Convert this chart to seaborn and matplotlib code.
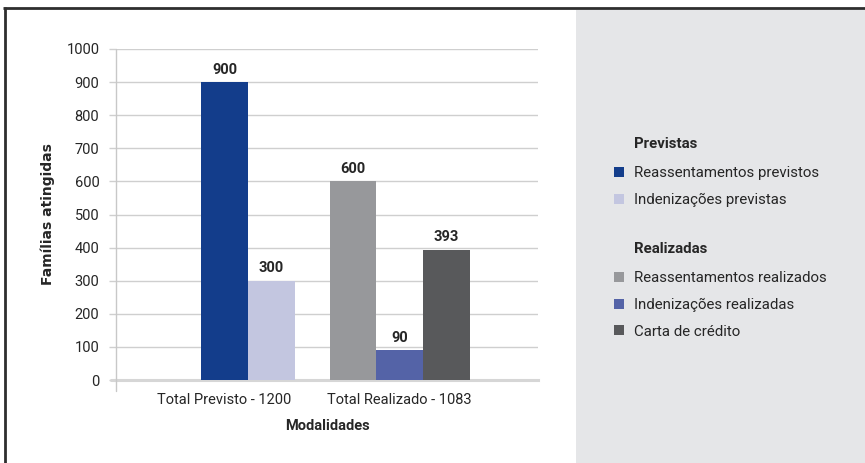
import matplotlib
matplotlib.use("Agg")
import matplotlib.pyplot as plt
import seaborn as sns
import pandas as pd
from matplotlib.patches import Patch, Rectangle
from matplotlib.lines import Line2D

# ---- data ----
categories = ["Total Previsto - 1200", "Total Realizado - 1083"]
series = ["Reassentamentos previstos", "Indenizações previstas",
          "Reassentamentos realizados", "Indenizações realizadas", "Carta de crédito"]
series_category = [0, 0, 1, 1, 1]
series_slot = [1, 2, 0, 1, 2]
values = [900, 300, 600, 90, 393]
colors = ["#133d8b", "#c3c6e0", "#97989b", "#5463a7", "#58595b"]
group_titles = ["Previstas", "Realizadas"]
y_ticks = list(range(0, 1001, 100))
x_title = "Modalidades"
y_title = "Famílias atingidas"

df = pd.DataFrame({
    "Modalidades": [categories[c] for c in series_category],
    "slot": series_slot,
    "value": values,
    "series": series,
})

W, H = 865, 463
sns.set_theme(style="white")
plt.rcParams["font.family"] = ["Roboto", "DejaVu Sans"]
TXT = "#262626"

fig = plt.figure(figsize=(W / 100, H / 100), dpi=100)

# right grey panel
fig.patches.append(Rectangle((576 / W, 0), (W - 576) / W, (H - 10) / H,
                             transform=fig.transFigure, facecolor="#e5e6e8",
                             edgecolor="none", zorder=0))
# frame lines (top and left)
fig.lines.append(Line2D([3 / W, 1], [1 - 8 / H, 1 - 8 / H], transform=fig.transFigure,
                        color="#2e2e2e", lw=2.0, solid_capstyle="butt"))
fig.lines.append(Line2D([4.5 / W, 4.5 / W], [0, 1 - 7 / H], transform=fig.transFigure,
                        color="#2e2e2e", lw=2.0, solid_capstyle="butt"))

ax_l, ax_r, ax_t, ax_b = 116, 538, 49, 380
ax = fig.add_axes([ax_l / W, 1 - ax_b / H, (ax_r - ax_l) / W, (ax_b - ax_t) / H])
ax.set_facecolor("none")

sns.barplot(data=df, x="Modalidades", y="value", hue="slot", order=categories,
            hue_order=[0, 1, 2], dodge=True, width=0.8, saturation=1,
            errorbar=None, legend=False, ax=ax, zorder=3)

# colour bars by series
for bar in ax.patches:
    cx = bar.get_x() + bar.get_width() / 2
    cat = int(round(cx))
    h = bar.get_height()
    for i in range(len(series)):
        if series_category[i] == cat and values[i] == h:
            bar.set_facecolor(colors[i])
            bar.set_edgecolor("none")

for cont in ax.containers:
    ax.bar_label(cont, fmt="%d", padding=4, fontsize=10.5, fontweight="bold", color=TXT)

ax.set_ylim(0, 1000)
ax.set_yticks(y_ticks)
ax.set_xlim(-0.62, 1.79)
ax.yaxis.grid(True, color="#cfcfcf", lw=1.0, zorder=0)
ax.set_axisbelow(True)
for s in ["top", "right", "left"]:
    ax.spines[s].set_visible(False)
ax.spines["bottom"].set_color("#d6d6d6")
ax.spines["bottom"].set_linewidth(2.2)
ax.spines["bottom"].set_zorder(1)
# left axis line extending slightly below zero
ax.add_line(Line2D([0, 0], [-11 / (ax_b - ax_t), 1], transform=ax.transAxes,
                   color="#c8c8c8", lw=1.0, clip_on=False, zorder=2))
# zero line extension to the left (tick)
ax.add_line(Line2D([-5 / (ax_r - ax_l), 0], [0, 0], transform=ax.transAxes,
                   color="#d6d6d6", lw=2.2, clip_on=False, zorder=1))

ax.tick_params(axis="y", length=5, width=1.0, color="#cfcfcf", pad=7,
               labelsize=10.5, labelcolor=TXT, left=True)
ax.tick_params(axis="x", length=0, pad=9, labelsize=10.5, labelcolor=TXT)
ax.set_xlabel(x_title, fontsize=10.5, fontweight="bold", color=TXT, labelpad=9)
ax.set_ylabel(y_title, fontsize=10, fontweight="bold", color=TXT, labelpad=8,
              family=["DejaVu Sans"])

# legend
fig.text(634 / W, 1 - 144 / H, group_titles[0], fontsize=10.8, fontweight="bold",
         color=TXT, va="center", ha="left")
fig.text(634 / W, 1 - 249 / H, group_titles[1], fontsize=10.8, fontweight="bold",
         color=TXT, va="center", ha="left")

def make_legend(idx, top_px):
    handles = [Patch(facecolor=colors[i], edgecolor="none") for i in idx]
    labels = [series[i] for i in idx]
    leg = fig.legend(handles, labels, loc="upper left",
                     bbox_to_anchor=(614 / W, 1 - top_px / H),
                     bbox_transform=fig.transFigure, frameon=False,
                     fontsize=10.8, labelcolor=TXT, handlelength=0.66,
                     handleheight=0.66, handletextpad=0.66, labelspacing=0.85,
                     borderpad=0, borderaxespad=0)
    return leg

make_legend([0, 1], 166)
make_legend([2, 3, 4], 271)

fig.savefig("out.png", dpi=100)
